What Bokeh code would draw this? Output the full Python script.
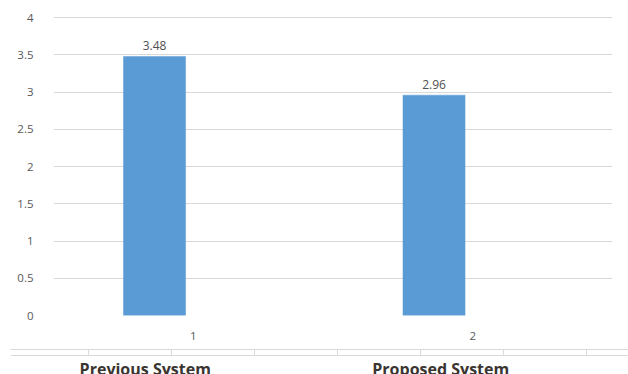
from bokeh.plotting import figure
from bokeh.layouts import column
from bokeh.models import Range1d, FixedTicker, ColumnDataSource, LinearAxis, Span
from bokeh.core.properties import value
from bokeh.embed import file_html
from bokeh.resources import INLINE

# ---- data ----
categories = [1, 2]
scores = [3.48, 2.96]
score_labels = ["3.48", "2.96"]
x_tick_labels = ["1", "2"]
group_labels = ["Previous System", "Proposed System"]
y_ticks = [0, 0.5, 1, 1.5, 2, 2.5, 3, 3.5, 4]
y_tick_labels = ["0", "0.5", "1", "1.5", "2", "2.5", "3", "3.5", "4"]

# ---- style / layout constants ----
W = 628
TOP_H = 346
BOT_H = 374 - TOP_H
FRAME_L, FRAME_R = 53, 612
PX_PER_UNIT = (FRAME_R - FRAME_L) / 2.0
BAR_SHIFT = -0.1386
BAR_W = 0.222
BAR_COLOR = "#5b9bd5"
GRID_COLOR = "#d9d9d9"
FONT = "Open Sans"
Y_PAD = 0.03

p = figure(width=W, height=TOP_H, output_backend="svg", toolbar_location=None,
           x_range=Range1d(0.5, 2.5), y_range=Range1d(0, 4 + Y_PAD),
           min_border_left=FRAME_L, min_border_right=W - FRAME_R,
           min_border_top=15, min_border_bottom=31)
p.outline_line_color = None
p.background_fill_color = "white"
p.border_fill_color = "white"

src = ColumnDataSource(dict(
    x=[c + BAR_SHIFT for c in categories], top=scores, label=score_labels))
p.vbar(x="x", top="top", width=BAR_W, bottom=0, source=src,
       fill_color=BAR_COLOR, line_color=BAR_COLOR, line_width=0.5)
p.text(x="x", y="top", text="label", source=src, text_align="center",
       text_baseline="bottom", y_offset=-6, text_font=value(FONT),
       text_font_size="12px", text_color="#505050")

# axes
p.yaxis.ticker = FixedTicker(ticks=y_ticks)
p.yaxis.major_label_overrides = {t: l for t, l in zip(y_ticks, y_tick_labels)}
p.yaxis.axis_line_color = None
p.yaxis.major_tick_line_color = None
p.yaxis.minor_tick_line_color = None
p.yaxis.major_label_standoff = 14
p.yaxis.major_label_text_font = FONT
p.yaxis.major_label_text_font_size = "11.5px"
p.yaxis.major_label_text_color = "#595959"

p.xaxis.ticker = FixedTicker(ticks=categories)
p.xaxis.major_label_overrides = {c: l for c, l in zip(categories, x_tick_labels)}
p.xaxis.axis_line_color = None
p.xaxis.major_tick_line_color = None
p.xaxis.minor_tick_line_color = None
p.xaxis.major_label_standoff = 10
p.xaxis.major_label_text_font = FONT
p.xaxis.major_label_text_font_size = "11.5px"
p.xaxis.major_label_text_color = "#595959"

p.ygrid.ticker = FixedTicker(ticks=y_ticks)
p.ygrid.grid_line_color = GRID_COLOR
p.ygrid.grid_line_width = 1
p.xgrid.grid_line_color = None

# ---- bottom strip with group labels ----
B_L = 10
bx0 = 0.5 - (FRAME_L - B_L) / PX_PER_UNIT
bx1 = 2.5 + (W - FRAME_R) / PX_PER_UNIT
b = figure(width=W, height=BOT_H, output_backend="svg", toolbar_location=None,
           x_range=Range1d(bx0, bx1), y_range=Range1d(BOT_H - 3, 0),
           min_border_left=B_L, min_border_right=0, min_border_top=3,
           min_border_bottom=0)
b.outline_line_color = None
b.xaxis.visible = False
b.yaxis.visible = False
b.xgrid.grid_line_color = None
b.ygrid.grid_line_color = None

sep_start = 0.5 + (88 - FRAME_L) / PX_PER_UNIT
sep_step = 83 / PX_PER_UNIT
seps = [sep_start + k * sep_step for k in range(7)]
ax = LinearAxis(ticker=FixedTicker(ticks=seps),
                major_label_overrides={s: "" for s in seps},
                major_tick_in=6, major_tick_out=0, minor_tick_line_color=None,
                axis_line_color=GRID_COLOR, major_tick_line_color=GRID_COLOR,
                major_label_standoff=0)
b.add_layout(ax, "above")
b.add_layout(Span(location=6, dimension="width", line_color=GRID_COLOR, line_width=1))

label_shift_px = [-48, -32]
lsrc = ColumnDataSource(dict(
    x=[c + s / PX_PER_UNIT for c, s in zip(categories, label_shift_px)],
    y=[8, 8], t=group_labels))
b.text(x="x", y="y", text="t", source=lsrc, text_align="center",
       text_baseline="top", text_font=value(FONT), text_font_style="bold",
       text_font_size="16px", text_color="#3a3530")

layout = column(p, column(b))
open("out.html", "w").write(file_html(layout, INLINE))
